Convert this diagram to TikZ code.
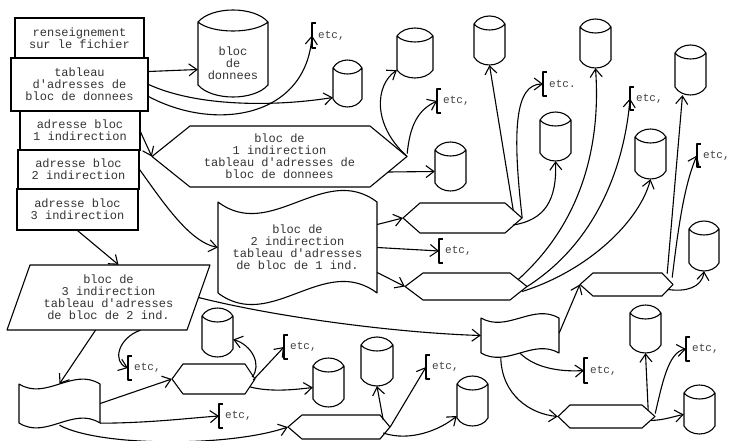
\documentclass[tikz,border=0pt]{standalone}
\usepackage{fontspec}
\setmonofont{Liberation Mono}
\usetikzlibrary{arrows.meta,calc}
\tikzset{
 shp/.style={line width=1.1pt, line join=round},
 hid/.style={draw=none, inner sep=0pt, align=center, text=black!80, font=\ttfamily\fontsize{12}{12}\selectfont},
 rectbox/.style={draw, line width=1.1pt, inner sep=0pt, align=center, text=black!80, font=\ttfamily\fontsize{12}{12}\selectfont},
 etctext/.style={inner sep=0pt, font=\ttfamily\fontsize{11}{11}\selectfont, text=black!75},
 arr/.style={line width=1.1pt, -{Straight Barb[length=8pt,width=12pt]}},
}
% cylinder: [node options], name, x1, ytop, x2, ybot, a, text
\newcommand\mycyl[8][]{%
 \pgfmathsetmacro\myXa{#3}\pgfmathsetmacro\myXb{#5}%
 \pgfmathsetmacro\myYa{#4}\pgfmathsetmacro\myYb{#6}\pgfmathsetmacro\myAa{#7}%
 \pgfmathsetmacro\myWd{\myXb-\myXa}\pgfmathsetmacro\myHt{\myYb-\myYa}%
 \pgfmathsetmacro\myXm{(\myXa+\myXb)/2}\pgfmathsetmacro\myYm{(\myYa+\myYb)/2}%
 \pgfmathsetmacro\myXc{\myXa+0.2*\myWd}\pgfmathsetmacro\myXd{\myXb-0.2*\myWd}%
 \pgfmathsetmacro\myYc{\myYa+\myAa}%
 \pgfmathsetmacro\myYd{\myYb-\myAa}%
 \pgfmathsetmacro\myYe{\myYa-\myAa/3}%
 \pgfmathsetmacro\myYf{\myYa+\myAa+\myAa}%
 \pgfmathsetmacro\myYg{\myYb+\myAa/3}%
 \node[hid, minimum width=\myWd pt, minimum height=\myHt pt, #1] (#2) at (\myXm,\myYm) {#8};
 \draw[shp] (\myXa,\myYc) .. controls (\myXc,\myYe) and (\myXd,\myYe) .. (\myXb,\myYc)
   .. controls (\myXd,\myYf) and (\myXc,\myYf) .. (\myXa,\myYc) -- (\myXa,\myYd)
   .. controls (\myXc,\myYg) and (\myXd,\myYg) .. (\myXb,\myYd) -- (\myXb,\myYc);
}
% hexagon: name, xL, xTL, xTR, xR, ytop, ybot, text
\newcommand\myhex[8]{%
 \pgfmathsetmacro\myYm{(#6+#7)/2}\pgfmathsetmacro\myXm{(#2+#5)/2}%
 \pgfmathsetmacro\myWd{#5-#2}\pgfmathsetmacro\myHt{#7-#6}%
 \node[hid, minimum width=\myWd pt, minimum height=\myHt pt] (#1) at (\myXm,\myYm) {#8};
 \draw[shp] (#2,\myYm) -- (#3,#6) -- (#4,#6) -- (#5,\myYm) -- (#4,#7) -- (#3,#7) -- cycle;
}
% tape: name, x1, yt, x2, yb, c, text
\newcommand\mytape[7]{%
 \pgfmathsetmacro\myXm{(#2+#4)/2}\pgfmathsetmacro\myYm{(#3+#5)/2}%
 \pgfmathsetmacro\myWd{#4-#2}\pgfmathsetmacro\myHt{#5-#3}%
 \pgfmathsetmacro\myXc{#2+\myWd/3}\pgfmathsetmacro\myXd{#2+2*\myWd/3}%
 \pgfmathsetmacro\myYc{#3+#6}\pgfmathsetmacro\myYd{#3-#6}%
 \pgfmathsetmacro\myYe{#5+#6}\pgfmathsetmacro\myYf{#5-#6}%
 \node[hid, minimum width=\myWd pt, minimum height=\myHt pt] (#1) at (\myXm,\myYm) {#7};
 \draw[shp] (#2,#3) .. controls (\myXc,\myYc) and (\myXd,\myYd) .. (#4,#3) -- (#4,#5)
   .. controls (\myXd,\myYf) and (\myXc,\myYe) .. (#2,#5) -- cycle;
}
% etc bracket: name, x, y1, y2, text
\newcommand\myetc[5]{%
 \pgfmathsetmacro\myYm{(#3+#4)/2}\pgfmathsetmacro\myHt{#4-#3}%
 \pgfmathsetmacro\myXc{#2+4}\pgfmathsetmacro\myXd{#2+6}%
 \node[draw=none, inner sep=0pt, minimum width=4pt, minimum height=\myHt pt, anchor=west] (#1) at (#2,\myYm) {};
 \draw[shp] (\myXc,#3) -- (#2,#3) -- (#2,#4) -- (\myXc,#4);
 \node[etctext, anchor=west] (#1t) at (\myXd,\myYm) {#5};
}
\begin{document}
\begin{tikzpicture}[x=1pt,y=-1pt]
\useasboundingbox (0,0) rectangle (732,441);
% left stack
\node[rectbox, minimum width=129pt, minimum height=40pt] (b1) at (79.5,38) {renseignement\\sur le fichier};
\node[rectbox, minimum width=137pt, minimum height=53pt] (b2) at (79.5,84.5) {tableau\\d'adresses de\\bloc de donnees};
\node[rectbox, minimum width=120pt, minimum height=39pt] (b3) at (80,130.5) {adresse bloc\\1 indirection};
\node[rectbox, minimum width=121pt, minimum height=39pt] (b4) at (78.5,169.5) {adresse bloc\\2 indirection};
\node[rectbox, minimum width=121pt, minimum height=41pt] (b5) at (77.5,209.5) {adresse bloc\\3 indirection};
% cylinders
\mycyl[yshift=-10pt]{c1}{198}{10}{268}{97}{12}{bloc\\de\\donnees}
\mycyl{c2}{333}{60}{362}{107}{8}{}
\mycyl{c3}{397}{28}{433}{78}{8}{}
\mycyl{c4}{474}{16}{505}{65}{8}{}
\mycyl{c5}{580}{19}{611}{68}{8}{}
\mycyl{c6}{675}{45}{706}{95}{8}{}
\mycyl{c7}{540}{112}{571}{161}{8}{}
\mycyl{c8}{435}{142}{466}{191}{8}{}
\mycyl{c9}{635}{129}{666}{179}{8}{}
\mycyl{c10}{689}{221}{719}{271}{8}{}
\mycyl{c11}{202}{308}{233}{357}{8}{}
\mycyl{c12}{313}{358}{344}{407}{8}{}
\mycyl{c13}{361}{337}{393}{386}{8}{}
\mycyl{c14}{457}{376}{488}{426}{8}{}
\mycyl{c15}{630}{305}{661}{353}{8}{}
\mycyl{c16}{684}{385}{715}{434}{8}{}
% hexagons
\myhex{h1}{152}{190}{370}{407}{126}{187}{bloc de\\1 indirection\\tableau d'adresses de\\bloc de donnees}
\myhex{hs1}{403}{420}{505}{522}{203}{233}{}
\myhex{hs2}{405}{423}{510}{527}{273}{300}{}
\myhex{hs3}{580}{593}{662}{673}{273}{296}{}
\myhex{hbr}{558}{570}{642}{655}{405}{428}{}
\myhex{hbl}{172}{183}{245}{255}{364}{394}{}
\myhex{hbm}{288}{302}{380}{390}{415}{439}{}
% tapes
\mytape{t1}{218}{202}{377}{293}{40}{bloc de\\2 indirection\\tableau d'adresses\\de bloc de 1 ind.}
\mytape{t2}{481}{318}{559}{353}{15}{}
\mytape{t3}{19}{384}{100}{423}{17}{}
% parallelogram
\node[hid, minimum width=150pt, minimum height=65pt] (para) at (108.5,297.5) {bloc de\\3 indirection\\tableau d'adresses\\de bloc de 2 ind.};
\draw[shp] (30,265) -- (210,265) -- (187,330) -- (7,330) -- cycle;
% etc brackets
\myetc{e1}{312}{23}{48}{etc,}
\myetc{e2}{437}{89}{113}{etc,}
\myetc{e3}{543}{72}{96}{etc.}
\myetc{e4}{630}{87}{110}{etc,}
\myetc{e5}{697}{144}{167}{etc,}
\myetc{e6}{439}{239}{263}{etc,}
\myetc{e7}{284}{335}{359}{etc,}
\myetc{e8}{426}{355}{379}{etc,}
\myetc{e9}{219}{404}{428}{etc,}
\myetc{e10}{128}{356}{380}{etc,}
\myetc{e11}{584}{358}{383}{etc,}
\myetc{e12}{686}{337}{361}{etc,}
% connectors
\draw[arr] ($(b2.east)+(0,-13)$) -- ($(c1.west)+(0,6)$);
\draw[arr] (b2.east) .. controls (200,108) and (280,106) .. ($(c2.west)+(0,14)$);
\draw[arr] ($(b2.east)+(0,12)$) .. controls (215,132) and (306,118) .. (e1.west);
\draw[arr] ($(b3.east)+(0,1.5)$) -- (h1.west);
\draw[arr] (b4.east) .. controls (165,205) and (190,242) .. (t1.west);
\draw[arr] (b5.south) -- ($(para.north)+(10,0)$);
\draw[arr] ($(para.south)+(-13,0)$) -- (t3.north);
\draw[arr] ($(para.south)+(32,0)$) .. controls (118,338) and (112,362) .. (e10.west);
\draw[arr] ($(para.center)+(90,0)$) .. controls (280,318) and (400,333) .. (t2.west);
\draw[arr] ($(t1.east)+(0,-23)$) -- (hs1.west);
\draw[arr] (t1.east) -- (e6.west);
\draw[arr] ($(t1.east)+(0,25)$) -- (hs2.west);
\draw[arr] (h1.east) .. controls (372,125) and (375,85) .. ($(c3.south west)+(0,-8)$);
\draw[arr] ($(h1.east)+(0,-3)$) .. controls (410,125) and (418,110) .. (e2.west);
\draw[arr] ($(h1.east)+(-19,15.5)$) -- ($(c8.west)+(0,5)$);
\draw[arr] ($(hs1.east)+(-9,-8)$) -- (c4.south);
\draw[arr] (hs1.east) .. controls (512,130) and (515,84) .. (e3.west);
\draw[arr] ($(hs1.east)+(-9,7)$) .. controls (545,220) and (557,200) .. (c7.south);
\draw[arr] ($(hs2.east)+(-9,-7)$) .. controls (590,215) and (600,130) .. (c5.south);
\draw[arr] (hs2.east) .. controls (600,240) and (625,160) .. (e4.west);
\draw[arr] ($(hs2.east)+(-5,5)$) .. controls (590,270) and (640,220) .. (c9.south);
\draw[arr] ($(t2.east)+(0,-2.5)$) -- (hs3.west);
\draw[arr] ($(hs3.east)+(-6,-11)$) -- ($(c6.south)+(-8,0)$);
\draw[arr] ($(hs3.east)+(-1,-7)$) .. controls (678,230) and (684,185) .. (e5.west);
\draw[arr] ($(hs3.east)+(-5,5)$) .. controls (685,292) and (702,288) .. (c10.south);
\draw[arr] (t2.south) .. controls (535,368) and (560,372) .. (e11.west);
\draw[arr] ($(t2.south west)+(20,5)$) .. controls (502,395) and (530,414) .. (hbr.west);
\draw[arr] ($(hbr.east)+(-7,-6)$) -- (c15.south);
\draw[arr] ($(hbr.east)+(0,-3)$) .. controls (662,385) and (668,352) .. (e12.west);
\draw[arr] ($(hbr.east)+(-4,4)$) .. controls (665,420) and (675,416) .. ($(c16.west)+(0,5)$);
\draw[arr] (t3.east) -- (hbl.west);
\draw[arr] (t3.south east) .. controls (150,423) and (190,418) .. (e9.west);
\draw[arr] ($(t3.south)+(0,2)$) .. controls (100,447) and (230,447) .. (hbm.west);
\draw[arr] ($(hbl.east)+(-3,-2)$) .. controls (262,365) and (252,345) .. ($(c11.east)+(0,7)$);
\draw[arr] ($(hbl.east)+(-2,1)$) -- (e7.west);
\draw[arr] ($(hbl.east)+(-5,8)$) .. controls (270,392) and (292,390) .. ($(c12.west)+(0,5)$);
\draw[arr] ($(hbm.east)+(-7,-7)$) -- (c13.south);
\draw[arr] (hbm.east) -- (e8.west);
\draw[arr] ($(hbm.east)+(-7,6)$) .. controls (410,442) and (440,430) .. ($(c14.west)+(0,15)$);
\end{tikzpicture}
\end{document}
